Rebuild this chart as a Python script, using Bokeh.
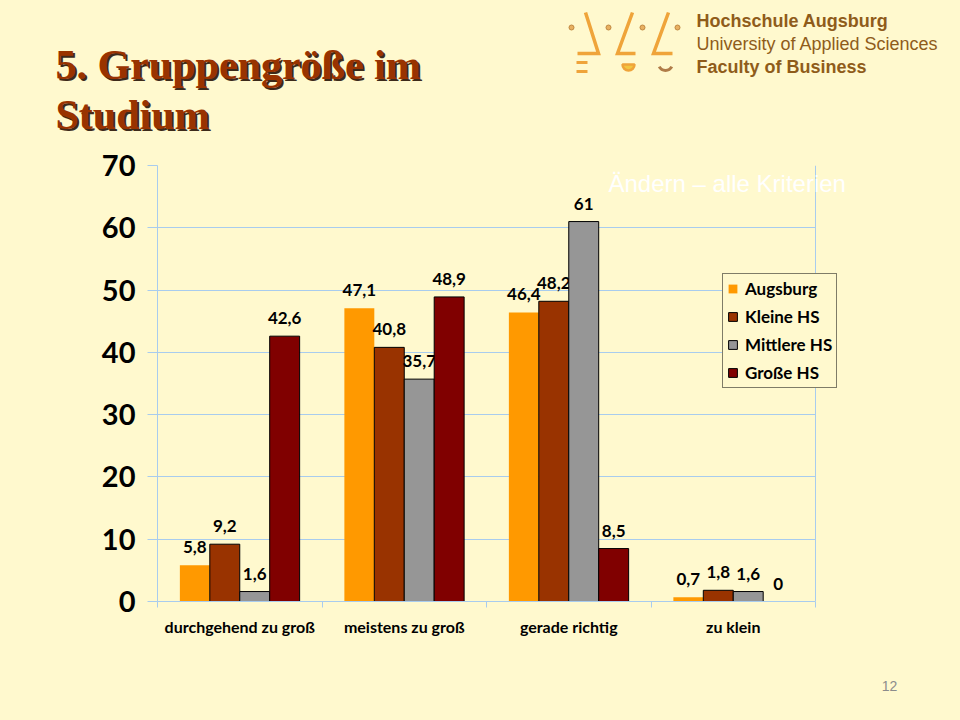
import numpy as np
from bokeh.plotting import figure
from bokeh.layouts import column
from bokeh.models import ColumnDataSource, Range1d, FixedTicker, Label
from bokeh.transform import dodge
from bokeh.core.properties import value
from bokeh.embed import file_html
from bokeh.resources import INLINE

# ---------------- data ----------------
categories = ["durchgehend zu groß", "meistens zu groß", "gerade richtig", "zu klein"]
series_names = ["Augsburg", "Kleine HS", "Mittlere HS", "Große HS"]
augsburg = [5.8, 47.1, 46.4, 0.7]
kleine_hs = [9.2, 40.8, 48.2, 1.8]
mittlere_hs = [1.6, 35.7, 61, 1.6]
grosse_hs = [42.6, 48.9, 8.5, 0]
y_ticks = [0, 10, 20, 30, 40, 50, 60, 70]

series_values = [augsburg, kleine_hs, mittlere_hs, grosse_hs]
series_colors = ["#FF9900", "#993300", "#969696", "#800000"]
series_lines = [None, "black", "black", "black"]

BG = "#FFF9CE"
GRID = "#A8CCEE"


def fmt(v):
    if float(v).is_integer():
        return str(int(v))
    return ("%.1f" % v).replace(".", ",")


def plain(fig):
    fig.axis.visible = False
    fig.grid.visible = False
    fig.outline_line_color = None
    fig.background_fill_color = BG
    fig.border_fill_color = BG


# ---------------- header ----------------
HH = 140
head = figure(width=960, height=HH, x_range=Range1d(0, 960), y_range=Range1d(HH, 0),
              output_backend="svg", toolbar_location=None, min_border=0, frame_align=False)
plain(head)

title_lines = ["5. Gruppengröße im", "Studium"]
for dx, col in [(2, "#3d2a1a"), (0, "#993300")]:
    head.text(x=[55 + dx, 55 + dx], y=[87 + dx, 137 + dx], text=title_lines,
              text_font=value("Liberation Serif"), text_font_size="42px",
              text_font_style="bold", text_color=col, text_baseline="bottom")

brand = "#8f5c1a"
head.text(x=[696], y=[30], text=["Hochschule Augsburg"], text_font=value("Liberation Sans"),
          text_font_size="18px", text_font_style="bold", text_color=brand, text_baseline="bottom")
head.text(x=[696], y=[53], text=["University of Applied Sciences"], text_font=value("Liberation Sans"),
          text_font_size="18px", text_color=brand, text_baseline="bottom")
head.text(x=[696], y=[76], text=["Faculty of Business"], text_font=value("Liberation Sans"),
          text_font_size="18px", text_font_style="bold", text_color=brand, text_baseline="bottom")

# logo (decoration)
logo = "#EFA43A"
head.multi_line(xs=[[585, 598, 577], [632, 617, 635], [668, 653, 672]],
                ys=[[12, 53, 53], [12, 53, 53], [12, 53, 53]],
                line_color=logo, line_width=3.5, line_join="miter")
head.segment(x0=[576, 576], y0=[62, 71], x1=[587, 587], y1=[62, 71], line_color=logo, line_width=3)
head.scatter(x=[571, 608, 642, 677], y=[27, 27, 27, 27], size=5, fill_color="#E8B060",
             line_color="#C08840", line_width=1)
head.wedge(x=[628], y=[64], radius=6, start_angle=np.pi, end_angle=2 * np.pi,
           fill_color="#F2C640", line_color=logo, line_width=2.5)
head.arc(x=[665], y=[63], radius=7, start_angle=np.pi * 1.15, end_angle=np.pi * 1.85,
         line_color="#B07C48", line_width=3)

# ---------------- chart ----------------
CH = 510
left_px, right_px = 157, 815          # plot area in page pixels
x_end = len(categories) * (960 - left_px) / (right_px - left_px)
p = figure(width=960, height=CH, x_range=Range1d(0, x_end), y_range=Range1d(0, 70),
           output_backend="svg", toolbar_location=None, frame_align=False,
           min_border_left=left_px, min_border_right=0, min_border_top=25, min_border_bottom=49)
p.background_fill_color = BG
p.border_fill_color = BG
p.outline_line_color = None

xc = np.arange(len(categories)) + 0.5
bw = 0.182
offsets = [-1.5 * bw, -0.5 * bw, 0.5 * bw, 1.5 * bw]

for name, vals, colr, lc, off in zip(series_names, series_values, series_colors, series_lines, offsets):
    src = ColumnDataSource(dict(x=xc, v=vals, lbl=[fmt(v) for v in vals],
                                la=[0.0 if v == 0 else 1.0 for v in vals]))
    p.vbar(x=dodge("x", off, range=p.x_range), top="v", width=bw, source=src,
           fill_color=colr, line_color=lc, line_width=1, line_alpha="la", legend_label=name)
    p.text(x=dodge("x", off, range=p.x_range), y="v", text="lbl", source=src,
           text_align="center", text_baseline="bottom", y_offset=-12,
           text_font=value("Lato"), text_font_size="17px", text_font_style="bold",
           text_color="black")

# axes
p.yaxis.ticker = FixedTicker(ticks=y_ticks)
p.yaxis.axis_line_color = GRID
p.yaxis.major_tick_line_color = GRID
p.yaxis.major_tick_out = 10
p.yaxis.major_tick_in = 0
p.yaxis.minor_tick_line_color = None
p.yaxis.major_label_standoff = 12
p.yaxis.major_label_text_font = "Lato"
p.yaxis.major_label_text_font_size = "29px"
p.yaxis.major_label_text_font_style = "bold"
p.yaxis.major_label_text_color = "black"

p.xaxis.bounds = (0, len(categories))
p.xaxis.ticker = FixedTicker(ticks=list(xc), minor_ticks=list(range(len(categories) + 1)))
p.xaxis.major_label_overrides = {float(c): lab for c, lab in zip(xc, categories)}
p.xaxis.axis_line_color = GRID
p.xaxis.major_tick_line_color = None
p.xaxis.major_tick_out = 0
p.xaxis.major_tick_in = 0
p.xaxis.minor_tick_line_color = GRID
p.xaxis.minor_tick_out = 6
p.xaxis.minor_tick_in = 0
p.xaxis.major_label_standoff = 9
p.xaxis.major_label_text_font = "Lato"
p.xaxis.major_label_text_font_size = "16px"
p.xaxis.major_label_text_font_style = "bold"
p.xaxis.major_label_text_color = "black"

# horizontal grid limited to the plot area, right border of the plot area
p.ygrid.ticker = FixedTicker(ticks=y_ticks)
p.ygrid.cross_bounds = (0, len(categories))
p.ygrid.grid_line_color = GRID
p.ygrid.grid_line_width = 1
p.xgrid.ticker = FixedTicker(ticks=[len(categories)])
p.xgrid.cross_bounds = (0, 70)
p.xgrid.grid_line_color = GRID
p.xgrid.grid_line_width = 1

p.add_layout(Label(x=(608 - left_px) / 164.5, y=67.1, text="Ändern – alle Kriterien",
                   text_baseline="middle", text_font="Liberation Sans", text_font_size="24px",
                   text_color="white"))

# legend
lg = p.legend[0]
lg.location = (565, 213)
lg.margin = 0
lg.padding = 4
lg.spacing = 7
lg.label_height = 20
lg.glyph_height = 11
lg.glyph_width = 11
lg.label_standoff = 7
lg.border_line_color = "black"
lg.border_line_width = 1
lg.background_fill_color = BG
lg.background_fill_alpha = 1
lg.label_text_font = "Lato"
lg.label_text_font_size = "17px"
lg.label_text_font_style = "bold"
lg.label_text_color = "black"
lg.label_text_baseline = "middle"

# ---------------- footer ----------------
FH = 720 - HH - CH
foot = figure(width=960, height=FH, x_range=Range1d(0, 960), y_range=Range1d(FH, 0),
              output_backend="svg", toolbar_location=None, min_border=0, frame_align=False)
plain(foot)
foot.text(x=[889], y=[35], text=["12"], text_align="center", text_baseline="middle",
          text_font=value("Liberation Sans"), text_font_size="14px", text_color="#8c8c8c")

layout = column(head, p, foot, spacing=0, styles={"background-color": BG})
open("out.html", "w").write(file_html(layout, INLINE))
